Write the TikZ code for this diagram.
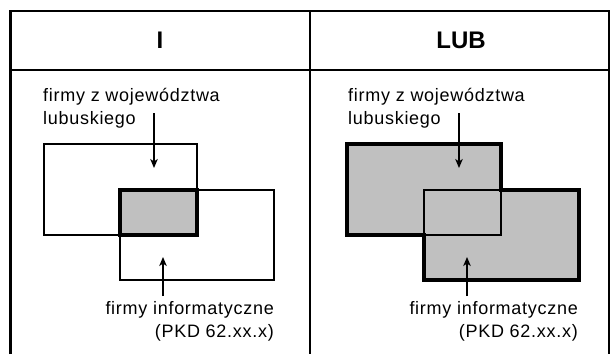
\documentclass[tikz,border=0pt]{standalone}
\usepackage{fontspec}
\setmainfont{Liberation Sans}
\newfontfamily\widefont[LetterSpace=4]{Liberation Sans}
\usetikzlibrary{arrows,arrows.meta}

\tikzset{
  grid/.style={line width=2.6pt},
  thin box/.style={line width=1.3pt},
  thick box/.style={line width=4.8pt,line join=miter},
  label/.style={inner sep=0pt,font=\widefont\fontsize{18}{23}\selectfont},
  head/.style={font=\bfseries\fontsize{24}{24}\selectfont},
  pointer/.style={-{Stealth[length=9pt,width=7.5pt,inset=2.5pt]},line width=1.3pt}
}
\definecolor{setgray}{RGB}{192,192,192}

\begin{document}
\begin{tikzpicture}[line cap=butt,line join=miter,x=1pt,y=-1pt]
\useasboundingbox (0,0) rectangle (610,354);
% table
\draw [grid] (10.5,354) -- (10.5,11) -- (609,11) -- (609,354);
\draw [grid] (10.5,70) -- (609,70);
\draw [grid] (310,11) -- (310,354);
\node [head] (hI) at (160,40) {I};
\node [head] (hLUB) at (461,40) {LUB};
% left: intersection
\draw [thin box] (44,144) rectangle (197,235);
\draw [thin box] (120,190) rectangle (274,280);
\draw [thick box,fill=setgray] (120,190) rectangle (197,235);
\node [label,anchor=west,align=left] (woj1) at (43,108.5) {firmy z województwa\\lubuskiego};
\node [label,anchor=east,align=right] (pkd1) at (274,321.5) {firmy informatyczne\\(PKD 62.xx.x)};
\coordinate (t1) at (154,113);
\coordinate (a1) at (154,168);
\coordinate (s1) at (163,296);
\coordinate (b1) at (163,257);
\draw [pointer] (t1) -- (a1);
\draw [pointer] (s1) -- (b1);
% right: union
\fill [setgray] (347,144) -- (501,144) -- (501,190) -- (579,190) -- (579,280) -- (424,280) -- (424,235) -- (347,235) -- cycle;
\draw [thin box] (347,144) rectangle (501,235);
\draw [thin box] (424,190) rectangle (579,280);
\draw [thick box] (347,144) -- (501,144) -- (501,190) -- (579,190) -- (579,280) -- (424,280) -- (424,235) -- (347,235) -- cycle;
\node [label,anchor=west,align=left] (woj2) at (348,108.5) {firmy z województwa\\lubuskiego};
\node [label,anchor=east,align=right] (pkd2) at (578,321.5) {firmy informatyczne\\(PKD 62.xx.x)};
\coordinate (t2) at (459,113);
\coordinate (a2) at (459,168);
\coordinate (s2) at (467,296);
\coordinate (b2) at (467,257);
\draw [pointer] (t2) -- (a2);
\draw [pointer] (s2) -- (b2);
\end{tikzpicture}
\end{document}
